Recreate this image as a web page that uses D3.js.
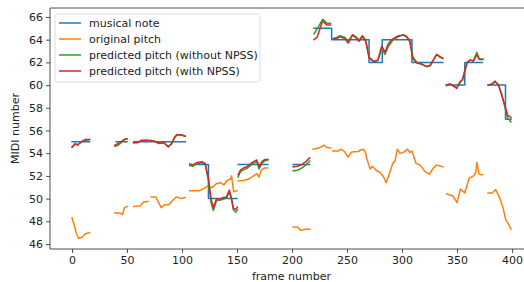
<!DOCTYPE html>
<html>
<head>
<meta charset="utf-8">
<script src="https://cdn.jsdelivr.net/npm/d3@7"></script>
<style>
  body { margin: 0; background: #fff; }
  svg { display: block; font-family: "DejaVu Sans", sans-serif; }
</style>
</head>
<body>
<svg id="chart" width="524" height="282"></svg>
<script>
// frame ranges / values, null = unvoiced gap
const xTicks = [0, 50, 100, 150, 200, 250, 300, 350, 400];
const yTicks = [46, 48, 50, 52, 54, 56, 58, 60, 62, 64, 66];

const seriesNames = ["musical note", "original pitch",
  "predicted pitch (without NPSS)", "predicted pitch (with NPSS)"];

const noteSteps = [
  [0,55],[16,55],null,
  [40,55],[50,55],null,
  [56,55],[103,55],null,
  [107,53],[124,50],[150,50],null,
  [151,53],[178,53],null,
  [201,53],[216,53],null,
  [220,65],[236,64],[270,62],[282,64],[309,62],[337,62],null,
  [340,60],[357,62],[373,62],null,
  [378,60],[394,57],[399,57]
];

const originalPitch = [
  [0,48.3],[2,47.7],[4,46.9],[6,46.5],[9,46.6],[12,46.9],[16,47.0],null,
  [39,48.75],[44,48.7],[46,48.6],[47.6,49.2],[50,49.3],null,
  [56,49.3],[62,49.35],[65,49.7],[69,49.75],null,
  [72,50.15],[76,50.15],[79,49.6],[81,49.2],[84,49.45],[88,49.45],[92,49.9],[95,50.15],[99,50.0],[103,50.1],null,
  [107,50.7],[116,50.7],[120,50.9],[123,51.1],[125,51.0],[128,51.0],[131,51.3],[135,51.4],[138,51.2],[141,51.6],[144,51.7],[145,52.0],[147,50.6],[150,50.7],null,
  [151,51.55],[156,51.6],[160,51.7],[165,52.0],[168,52.2],[170,51.9],[172,52.5],[175,52.7],[178,52.7],null,
  [201,47.5],[205,47.5],[208,47.2],[212,47.3],[216,47.3],null,
  [219,54.35],[224,54.45],[229.4,54.7],[231.5,54.5],[235,54.45],null,
  [237,54.2],[242,54.2],[245,54.35],[248,54.1],[251,53.65],[254,54.1],[260,54.15],[263,54.3],[265,54.35],[267,54.0],[268,53.5],[271,52.6],[273,52.85],[277,52.45],[280,52.3],[283,51.95],[285.5,51.4],[288.5,52.2],[291.5,53.1],[293.6,53.3],[295.7,54.35],[298,54.0],[301,54.05],[305,54.35],[307,54.05],[309,54.2],[312.7,53.1],[316.4,52.95],[321,52.35],[325,52.15],[328,52.65],[331.5,52.95],[337,52.8],null,
  [340.6,50.4],[346,50.25],[350,49.65],[353,50.85],[357,50.5],[361,51.8],[365,52.0],[367,52.3],[368,53.2],[370,52.15],[373,52.1],null,
  [378,50.5],[382,50.5],[385,50.8],[389,50.0],[392,49.1],[394,48.2],[397,47.7],[399,47.3]
];

const predNoNpss = [
  [0,54.5],[3,54.8],[5,54.75],[9,55.0],[12,55.15],[16,55.2],null,
  [39,54.6],[42,54.7],[45,54.95],[48,55.2],[50,55.25],null,
  [56,54.9],[60,54.95],[63,55.1],[69,55.15],null,
  [71,55.1],[75,55.05],[79,54.9],[83.5,54.9],[87.5,54.6],[90.5,54.8],[93.5,55.4],[95.5,55.6],[99.5,55.6],[103,55.5],null,
  [107,52.9],[110,52.85],[113,53.05],[118,53.15],[121,53.05],[124,51.6],[126.5,49.6],[128.5,48.95],[131.5,49.85],[134.5,49.85],[137.5,49.95],[140.5,50.05],[143,50.6],[145,49.9],[146.7,49.0],[149,48.8],[150.3,49.0],null,
  [151,51.9],[153,52.35],[156,52.55],[159,52.65],[162,52.9],[165,53.1],[168,53.25],[170,52.6],[172.5,53.1],[175.5,53.35],[178,53.4],null,
  [201,52.45],[205,52.5],[209,52.7],[213,53.0],[216,53.3],null,
  [220,64.5],[224,65.15],[228,65.8],[231.5,65.45],[235,65.45],null,
  [237.5,64.1],[240.6,64.2],[243.6,64.35],[248,64.2],[251,63.8],[255,64.45],[258.8,64.2],[260.9,63.95],[264,64.35],[267,63.95],[270,62.5],[274,62.1],[278,62.15],[281.5,63.2],[284.5,62.7],[287.5,63.4],[292,64.0],[296.7,64.25],[301,64.45],[304,64.3],[307,63.95],[309.7,62.5],[313.4,62.0],[318,61.8],[322.5,61.6],[325.5,61.75],[328.5,62.25],[331.5,62.7],[334.5,62.5],[337,62.4],null,
  [340.6,59.95],[343.6,60.1],[346.6,59.95],[349.7,59.75],[352.7,60.2],[355,60.55],[357,61.2],[359.4,62.0],[361.8,62.2],[364.8,62.15],[367.9,62.9],[370.3,62.3],[373.4,62.3],null,
  [378.5,60.0],[381.5,60.05],[384.5,60.3],[387.5,60.05],[390.6,59.2],[393.6,58.0],[396,57.1],[399,56.75]
];

const predNpss = [
  [0,54.55],[3,54.85],[5,54.7],[9,55.05],[12,55.2],[16,55.2],null,
  [39,54.7],[42,54.85],[45,55.05],[48,55.25],[50,55.25],null,
  [56,54.95],[60,54.95],[63,55.15],[69,55.15],null,
  [71,55.15],[75,55.05],[79,54.85],[83.5,54.95],[87.5,54.55],[90.5,54.85],[93.5,55.45],[95.5,55.65],[99.5,55.6],[103,55.5],null,
  [107,53.05],[110,52.95],[113,53.15],[118,53.25],[121,53.1],[124,51.8],[126.5,49.9],[128.5,49.2],[131.5,50.0],[134.5,49.95],[137.5,50.1],[140.5,50.15],[143,50.75],[145,50.0],[146.7,49.15],[149,49.05],[150.3,49.25],null,
  [151,52.1],[153,52.5],[156,52.7],[159,52.8],[162,53.05],[165,53.25],[168,53.4],[170,52.8],[172.5,53.25],[175.5,53.45],[178,53.45],null,
  [201,52.8],[205,52.85],[209,53.0],[213,53.3],[216,53.6],null,
  [220,64.0],[223,64.25],[225.5,65.0],[227.6,65.6],[229.4,65.5],[231.5,65.3],[235,65.3],null,
  [237.5,64.05],[240.6,64.1],[243.6,64.25],[248,64.1],[251,63.7],[255,64.4],[258.8,64.1],[260.9,63.85],[264,64.3],[267,63.85],[270,62.4],[274,62.05],[278,62.2],[281.5,63.45],[284.5,62.9],[287.5,63.65],[292,64.1],[296.7,64.35],[301,64.4],[304,64.25],[307,63.85],[309.7,62.35],[313.4,61.95],[318,61.85],[322.5,61.65],[325.5,61.7],[328.5,62.2],[331.5,62.7],[334.5,62.45],[337,62.35],null,
  [340.6,60.0],[343.6,60.1],[346.6,59.9],[349.7,59.7],[352.7,60.3],[355,60.45],[357,61.3],[359.4,62.05],[361.8,62.2],[364.8,62.1],[367.9,62.65],[370.3,62.25],[373.4,62.25],null,
  [378.5,60.0],[381.5,60.1],[384.5,60.35],[387.5,60.0],[390.6,59.1],[393.6,58.15],[396,57.35],[399,57.15]
];

const colors = ["#1f77b4", "#ff7f0e", "#2ca02c", "#d62728"];

const margin = { top: 8, left: 50, bottom: 249, right: 533 };

const svg = d3.select("#chart");

const x = d3.scaleLinear().domain([-20, 419]).range([margin.left, margin.right]);
const y = d3.scaleLinear().domain([45.56, 66.79]).range([margin.bottom, margin.top]);

svg.append("clipPath").attr("id", "plotclip")
  .append("rect")
  .attr("x", margin.left).attr("y", margin.top)
  .attr("width", margin.right - margin.left)
  .attr("height", margin.bottom - margin.top);

const plot = svg.append("g").attr("clip-path", "url(#plotclip)");

function makeLine(curve) {
  return d3.line()
    .defined(d => d !== null)
    .x(d => x(d[0]))
    .y(d => y(d[1]))
    .curve(curve);
}

const allSeries = [
  { data: noteSteps, curve: d3.curveStepAfter },
  { data: originalPitch, curve: d3.curveLinear },
  { data: predNoNpss, curve: d3.curveLinear },
  { data: predNpss, curve: d3.curveLinear }
];

allSeries.forEach((s, i) => {
  plot.append("path")
    .attr("d", makeLine(s.curve)(s.data))
    .attr("fill", "none")
    .attr("stroke", colors[i])
    .attr("stroke-width", 1.5)
    .attr("stroke-linejoin", "round")
    .attr("stroke-linecap", "square");
});

// axes
const xAxis = svg.append("g")
  .attr("transform", `translate(0,${margin.bottom})`)
  .call(d3.axisBottom(x).tickValues(xTicks).tickSize(4).tickPadding(3));

const yAxis = svg.append("g")
  .attr("transform", `translate(${margin.left},0)`)
  .call(d3.axisLeft(y).tickValues(yTicks).tickSize(4).tickPadding(3));

[xAxis, yAxis].forEach(g => {
  g.selectAll("text").attr("font-size", 11).attr("fill", "#222")
    .attr("font-family", "DejaVu Sans");
  g.selectAll(".tick line").attr("stroke", "#222").attr("stroke-width", 0.8);
  g.select(".domain").remove();
});

// spines
svg.append("line")
  .attr("x1", margin.left).attr("x2", margin.left)
  .attr("y1", margin.top).attr("y2", margin.bottom)
  .attr("stroke", "#222").attr("stroke-width", 0.8);
svg.append("line")
  .attr("x1", margin.left).attr("x2", 524)
  .attr("y1", margin.bottom).attr("y2", margin.bottom)
  .attr("stroke", "#222").attr("stroke-width", 0.8);
svg.append("line")
  .attr("x1", margin.left).attr("x2", 524)
  .attr("y1", margin.top).attr("y2", margin.top)
  .attr("stroke", "#222").attr("stroke-width", 0.8);

svg.append("text")
  .attr("x", (margin.left + margin.right) / 2)
  .attr("y", 280)
  .attr("text-anchor", "middle")
  .attr("font-size", 11)
  .attr("fill", "#222")
  .text("frame number");

svg.append("text")
  .attr("transform", `translate(19,${(margin.top + margin.bottom) / 2}) rotate(-90)`)
  .attr("text-anchor", "middle")
  .attr("font-size", 11)
  .attr("fill", "#222")
  .text("MIDI number");

// legend
const legend = svg.append("g");
legend.append("rect")
  .attr("x", 55).attr("y", 14)
  .attr("width", 205).attr("height", 68)
  .attr("rx", 3)
  .attr("fill", "#fff").attr("fill-opacity", 0.8)
  .attr("stroke", "#d5d5d5").attr("stroke-width", 0.8);

seriesNames.forEach((name, i) => {
  const cy = 23 + i * 16;
  legend.append("line")
    .attr("x1", 59).attr("x2", 81)
    .attr("y1", cy).attr("y2", cy)
    .attr("stroke", colors[i]).attr("stroke-width", 1.5);
  legend.append("text")
    .attr("x", 89).attr("y", cy)
    .attr("dy", "0.35em")
    .attr("font-size", 11)
    .attr("fill", "#222")
    .text(name);
});
</script>
</body>
</html>
